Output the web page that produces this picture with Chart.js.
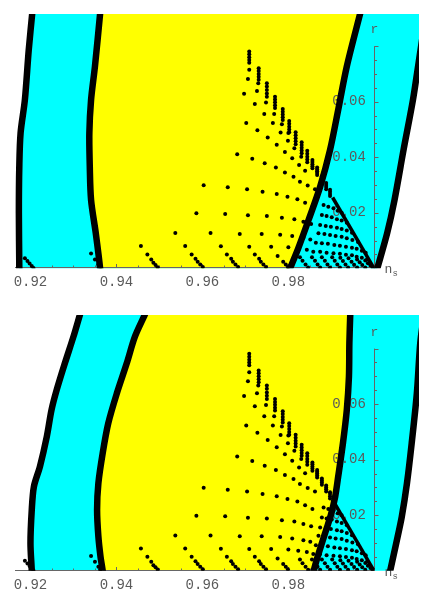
<!DOCTYPE html>
<html>
<head>
<meta charset="utf-8">
<script src="https://cdn.jsdelivr.net/npm/chart.js@4.4.0/dist/chart.umd.min.js"></script>
<style>
  body { margin: 0; background: #fff; }
  canvas { position: absolute; left: 0; }
  #upperPanel { top: 0; }
  #lowerPanel { top: 300px; }
</style>
</head>
<body>
<canvas id="upperPanel" width="436" height="300"></canvas>
<canvas id="lowerPanel" width="436" height="302"></canvas>
<script>
// axis ticks
const xTicks = [0.92, 0.94, 0.96, 0.98];
const xTickLabels = ['0.92', '0.94', '0.96', '0.98'];
const yTicks = [0.02, 0.04, 0.06];
const yTickLabels = ['0.02', '0.04', '0.06'];
const originNs = 1.0;     // the r axis sits at n_s = 1
const rAxisTop = 0.08;
const tickStep = 0.005;

// contour lines [n_s, r], upper panel
const upperOuterLeft = [[0.9207, 0.097], [0.9204, 0.0917], [0.9196, 0.0787], [0.9187, 0.0607], [0.9177, 0.0487],
  [0.9174, 0.0366], [0.9173, 0.0200], [0.9174, 0.0], [0.9174, -0.006]];
const upperInnerLeft = [[0.9365, 0.097], [0.9362, 0.0917], [0.9350, 0.0727], [0.9341, 0.0607], [0.9337, 0.0487],
  [0.9338, 0.0366], [0.9341, 0.0246], [0.9352, 0.0126], [0.9362, 0.0], [0.9364, -0.006]];
const upperInnerRight = [[0.9976, 0.097], [0.9967, 0.0917], [0.9936, 0.0727], [0.9916, 0.0571], [0.9897, 0.0426],
  [0.9874, 0.0294], [0.9847, 0.0174], [0.9823, 0.0072], [0.9804, 0.0], [0.9788, -0.006]];
const upperOuterRight = [[1.0130, 0.097], [1.0121, 0.0917], [1.0103, 0.0739], [1.0090, 0.0607], [1.0068, 0.0426],
  [1.0047, 0.0246], [1.0030, 0.0127], [1.0007, 0.0], [0.9996, -0.006]];

// contour lines [n_s, r], lower panel
const lowerOuterLeft = [[0.9324, 0.097], [0.9315, 0.0922], [0.9300, 0.0843], [0.9280, 0.0747], [0.9261, 0.0651],
  [0.9249, 0.0579], [0.9238, 0.0483], [0.9222, 0.0375], [0.9208, 0.0303], [0.9203, 0.0219], [0.9200, 0.0099],
  [0.9203, 0.0], [0.9204, -0.006]];
const lowerInnerLeft = [[0.9479, 0.097], [0.9466, 0.0922], [0.9443, 0.0843], [0.9424, 0.0747], [0.9401, 0.0639],
  [0.9381, 0.0531], [0.9368, 0.0423], [0.9358, 0.0315], [0.9355, 0.0219], [0.9358, 0.0123], [0.9363, 0.0050],
  [0.9368, 0.0], [0.9372, -0.006]];
const lowerInnerRight = [[0.9945, 0.097], [0.9944, 0.0922], [0.9942, 0.0820], [0.9941, 0.0699], [0.9936, 0.0579],
  [0.9927, 0.0459], [0.9916, 0.0339], [0.9909, 0.0267], [0.9899, 0.0201], [0.9888, 0.0147], [0.9878, 0.0099],
  [0.9868, 0.0050], [0.9859, 0.0], [0.9848, -0.006]];
const lowerOuterRight = [[1.0122, 0.097], [1.0116, 0.0922], [1.0107, 0.0821], [1.0099, 0.0639], [1.0087, 0.0459],
  [1.0076, 0.0315], [1.0064, 0.0195], [1.0051, 0.0099], [1.0037, 0.0], [1.0029, -0.006]];

// model predictions [n_s, r] (same in both panels)
const edgeDashes = [
  [0.9709, 0.0740], [0.9709, 0.0750], [0.9709, 0.0760], [0.9709, 0.0771], [0.9709, 0.0781],
  [0.9731, 0.0679], [0.9731, 0.0690], [0.9731, 0.0700], [0.9731, 0.0711], [0.9731, 0.0721],
  [0.9750, 0.0618], [0.9750, 0.0630], [0.9750, 0.0642], [0.9750, 0.0655], [0.9750, 0.0667],
  [0.9769, 0.0577], [0.9769, 0.0587], [0.9769, 0.0598], [0.9769, 0.0608], [0.9769, 0.0618],
  [0.9787, 0.0534], [0.9787, 0.0544], [0.9787, 0.0554], [0.9787, 0.0564], [0.9787, 0.0574],
  [0.9802, 0.0490], [0.9802, 0.0500], [0.9802, 0.0510], [0.9802, 0.0521], [0.9802, 0.0531],
  [0.9817, 0.0447], [0.9817, 0.0458], [0.9817, 0.0468], [0.9817, 0.0479], [0.9817, 0.0490],
  [0.9831, 0.0414], [0.9831, 0.0424], [0.9831, 0.0434], [0.9831, 0.0444], [0.9831, 0.0454],
  [0.9844, 0.0382], [0.9844, 0.0392], [0.9844, 0.0402], [0.9844, 0.0413], [0.9844, 0.0423],
  [0.9856, 0.0360], [0.9856, 0.0368], [0.9856, 0.0375], [0.9856, 0.0383], [0.9856, 0.0390],
  [0.9867, 0.0336], [0.9867, 0.0343], [0.9867, 0.0350], [0.9867, 0.0356], [0.9867, 0.0363],
  [0.9878, 0.0310], [0.9878, 0.0318], [0.9878, 0.0325], [0.9878, 0.0332],
  [0.9888, 0.0285], [0.9888, 0.0293], [0.9888, 0.0300], [0.9888, 0.0307],
  [0.9897, 0.0260], [0.9897, 0.0268], [0.9897, 0.0276], [0.9897, 0.0283]
];
const coneEdge = [[0.9903, 0.0255], [0.9998, 0.0003]];
const cloudDots = [
  [0.9709, 0.0715], [0.9706, 0.0682], [0.9697, 0.0629], [0.9730, 0.0667], [0.9727, 0.0639], [0.9722, 0.0592],
  [0.9748, 0.0597], [0.9744, 0.0556], [0.9702, 0.0523], [0.9767, 0.0556], [0.9764, 0.0523], [0.9728, 0.0497],
  [0.9785, 0.0519], [0.9782, 0.0489], [0.9752, 0.0471], [0.9800, 0.0487], [0.9799, 0.0459], [0.9773, 0.0445],
  [0.9814, 0.0432], [0.9792, 0.0419], [0.9681, 0.0411], [0.9830, 0.0402], [0.9809, 0.0396], [0.9716, 0.0395],
  [0.9745, 0.0378], [0.9825, 0.0372], [0.9771, 0.0363], [0.9839, 0.0351], [0.9792, 0.0345], [0.9812, 0.0330],
  [0.9827, 0.0312], [0.9845, 0.0298], [0.9862, 0.0285],
  [0.9603, 0.0299], [0.9659, 0.0292], [0.9704, 0.0285], [0.9740, 0.0276], [0.9773, 0.0268], [0.9798, 0.0258],
  [0.9821, 0.0249], [0.9839, 0.0236], [0.9856, 0.0222],
  [0.9586, 0.0198], [0.9653, 0.0196], [0.9706, 0.0191], [0.9750, 0.0188], [0.9785, 0.0182], [0.9814, 0.0177],
  [0.9835, 0.0168], [0.9853, 0.0160],
  [0.9537, 0.0127], [0.9619, 0.0127], [0.9687, 0.0124], [0.9738, 0.0124], [0.9781, 0.0121], [0.9809, 0.0116],
  [0.9835, 0.0110], [0.9851, 0.0104],
  [0.9457, 0.0080], [0.9560, 0.0080], [0.9643, 0.0079], [0.9709, 0.0078], [0.9760, 0.0078], [0.9800, 0.0076],
  [0.9823, 0.0072], [0.9843, 0.0067]
];
const footDots = [
  [0.9187, 0.0036], [0.9193, 0.0026], [0.9198, 0.0017], [0.9203, 0.0008], [0.9207, 0.0001],
  [0.9341, 0.0053], [0.9350, 0.0032], [0.9358, 0.0014], [0.9362, 0.0004],
  [0.9472, 0.0050], [0.9481, 0.0032], [0.9486, 0.0020], [0.9491, 0.0012], [0.9496, 0.0004],
  [0.9575, 0.0050], [0.9584, 0.0034], [0.9589, 0.0024], [0.9595, 0.0014], [0.9601, 0.0005],
  [0.9657, 0.0050], [0.9667, 0.0034], [0.9671, 0.0024], [0.9677, 0.0014], [0.9683, 0.0005],
  [0.9722, 0.0050], [0.9732, 0.0034], [0.9736, 0.0024], [0.9742, 0.0014], [0.9748, 0.0005],
  [0.9775, 0.0044], [0.9788, 0.0024], [0.9794, 0.0014], [0.9799, 0.0005],
  [0.9827, 0.0040], [0.9833, 0.0027], [0.9840, 0.0014], [0.9846, 0.0003],
  [0.9855, 0.0040], [0.9862, 0.0027], [0.9868, 0.0014], [0.9874, 0.0003],
  [0.9878, 0.0040], [0.9885, 0.0027], [0.9891, 0.0014], [0.9897, 0.0003],
  [0.9902, 0.0040], [0.9908, 0.0027], [0.9914, 0.0014], [0.9920, 0.0003],
  [0.9921, 0.0038], [0.9927, 0.0026], [0.9933, 0.0014], [0.9939, 0.0003],
  [0.9940, 0.0036], [0.9947, 0.0024], [0.9953, 0.0013], [0.9960, 0.0003],
  [0.9960, 0.0032], [0.9966, 0.0022], [0.9972, 0.0012], [0.9979, 0.0003],
  [0.9979, 0.0028], [0.9985, 0.0018], [0.9991, 0.0010], [0.9996, 0.0003]
];
const coneDots = [
  [0.9882, 0.0228], [0.9893, 0.0222], [0.9905, 0.0216], [0.9915, 0.0207], [0.9924, 0.0200],
  [0.9878, 0.0192], [0.9889, 0.0188], [0.9901, 0.0184], [0.9913, 0.0177], [0.9924, 0.0172], [0.9936, 0.0164],
  [0.9874, 0.0156], [0.9887, 0.0152], [0.9899, 0.0150], [0.9913, 0.0146], [0.9924, 0.0142], [0.9936, 0.0136],
  [0.9948, 0.0128],
  [0.9870, 0.0126], [0.9884, 0.0124], [0.9897, 0.0120], [0.9910, 0.0116], [0.9924, 0.0114], [0.9936, 0.0108],
  [0.9949, 0.0102], [0.9962, 0.0095],
  [0.9864, 0.0092], [0.9878, 0.0090], [0.9892, 0.0088], [0.9907, 0.0084], [0.9920, 0.0081], [0.9934, 0.0078],
  [0.9948, 0.0074], [0.9959, 0.0070], [0.9971, 0.0063], [0.9980, 0.0056],
  [0.9858, 0.0060], [0.9874, 0.0060], [0.9889, 0.0056], [0.9905, 0.0054], [0.9920, 0.0052], [0.9934, 0.0049],
  [0.9948, 0.0047], [0.9959, 0.0042], [0.9971, 0.0038], [0.9983, 0.0032]
];

const monoFont = '"Liberation Mono", monospace';
const labelColor = '#5a5a5a';
const xy = pts => pts.map(p => ({x: p[0], y: p[1]}));

// filled band between two contour lines
function band(left, right, color, order) {
    return {
        data: xy(left.concat(right.slice().reverse())),
        fill: 'shape',
        backgroundColor: color,
        borderWidth: 0,
        pointRadius: 0,
        tension: 0.3,
        clip: 0,
        order: order
    };
}

function contour(pts) {
    return {
        data: xy(pts),
        borderColor: '#000',
        borderWidth: 6.5,
        pointRadius: 0,
        tension: 0.3,
        fill: false,
        clip: 0,
        order: 1
    };
}

// axes drawn Mathematica style, crossing at (1, 0)
const axesPlugin = {
    id: 'crossAxes',
    beforeDatasetsDraw(chart) {
        const {ctx, chartArea: area, scales: {x, y}} = chart;
        const ox = Math.round(x.getPixelForValue(originNs)) + 0.5;
        const oy = Math.round(y.getPixelForValue(0)) - 0.5;
        const topY = y.getPixelForValue(rAxisTop);
        ctx.save();
        ctx.strokeStyle = '#666';
        ctx.lineWidth = 1;
        ctx.beginPath();
        ctx.moveTo(area.left, oy);
        ctx.lineTo(ox, oy);
        ctx.moveTo(ox, oy);
        ctx.lineTo(ox, topY);
        for (let k = 1; k * tickStep <= rAxisTop + 1e-9; k++) {
            const py = Math.round(y.getPixelForValue(k * tickStep)) + 0.5;
            ctx.moveTo(ox, py);
            ctx.lineTo(ox + (k % 4 === 0 ? 4 : 2.5), py);
        }
        for (let k = 1; originNs - k * tickStep >= x.min; k++) {
            const px = Math.round(x.getPixelForValue(originNs - k * tickStep)) + 0.5;
            ctx.moveTo(px, oy);
            ctx.lineTo(px, oy - (k % 4 === 0 ? 3.5 : 2));
        }
        ctx.stroke();

        ctx.fillStyle = labelColor;
        ctx.font = '13px ' + monoFont;
        ctx.textAlign = 'center';
        ctx.fillText('r', ox, topY - 13);
        ctx.textAlign = 'left';
        ctx.fillText('n', ox + 10, oy + 5);
        ctx.font = '9px ' + monoFont;
        ctx.fillText('s', ox + 18, oy + 8);
        ctx.restore();
    }
};

function buildPanel(canvasId, padTop, axisBand, yMax, curves) {
    const [outerLeft, innerLeft, innerRight, outerRight] = curves;
    return new Chart(document.getElementById(canvasId), {
        type: 'line',
        data: {
            datasets: [
                {
                    data: xy(edgeDashes.concat(cloudDots, footDots, coneDots)),
                    showLine: false,
                    pointRadius: 2,
                    pointBackgroundColor: '#000',
                    pointBorderWidth: 0,
                    clip: 0,
                    order: 0
                },
                {
                    data: xy(coneEdge),
                    borderColor: '#000',
                    borderWidth: 3.5,
                    pointRadius: 0,
                    fill: false,
                    clip: 0,
                    order: 0
                },
                contour(outerLeft),
                contour(innerLeft),
                contour(innerRight),
                contour(outerRight),
                band(innerLeft, innerRight, '#ffff00', 2),
                band(outerLeft, outerRight, '#00ffff', 3)
            ]
        },
        options: {
            responsive: false,
            animation: false,
            events: [],
            layout: { padding: { top: padTop, left: 15, right: 17, bottom: 0 } },
            elements: { line: { capBezierPoints: false } },
            plugins: {
                legend: { display: false },
                tooltip: { enabled: false },
                filler: { propagate: false, drawTime: 'beforeDraw' }
            },
            scales: {
                x: {
                    type: 'linear',
                    min: 0.9164,
                    max: 1.0104,
                    grid: { display: false, drawTicks: false },
                    border: { display: false },
                    afterBuildTicks: s => { s.ticks = xTicks.map(v => ({value: v})); },
                    afterFit: s => { s.height = axisBand; },
                    ticks: {
                        autoSkip: false,
                        maxRotation: 0,
                        padding: 6,
                        color: labelColor,
                        font: { family: monoFont, size: 14 },
                        callback: (v, i) => xTickLabels[i]
                    }
                },
                y: {
                    type: 'linear',
                    position: { x: originNs },
                    min: 0,
                    max: yMax,
                    grid: { display: false, drawTicks: false },
                    border: { display: false },
                    afterBuildTicks: s => { s.ticks = yTicks.map(v => ({value: v})); },
                    ticks: {
                        color: labelColor,
                        font: { family: monoFont, size: 14 },
                        callback: (v, i) => yTickLabels[i] + ' '
                    }
                }
            }
        },
        plugins: [axesPlugin]
    });
}

buildPanel('upperPanel', 14, 31.7, 0.0916, [upperOuterLeft, upperInnerLeft, upperInnerRight, upperOuterRight]);
buildPanel('lowerPanel', 15, 31.3, 0.0921, [lowerOuterLeft, lowerInnerLeft, lowerInnerRight, lowerOuterRight]);
</script>
</body>
</html>
